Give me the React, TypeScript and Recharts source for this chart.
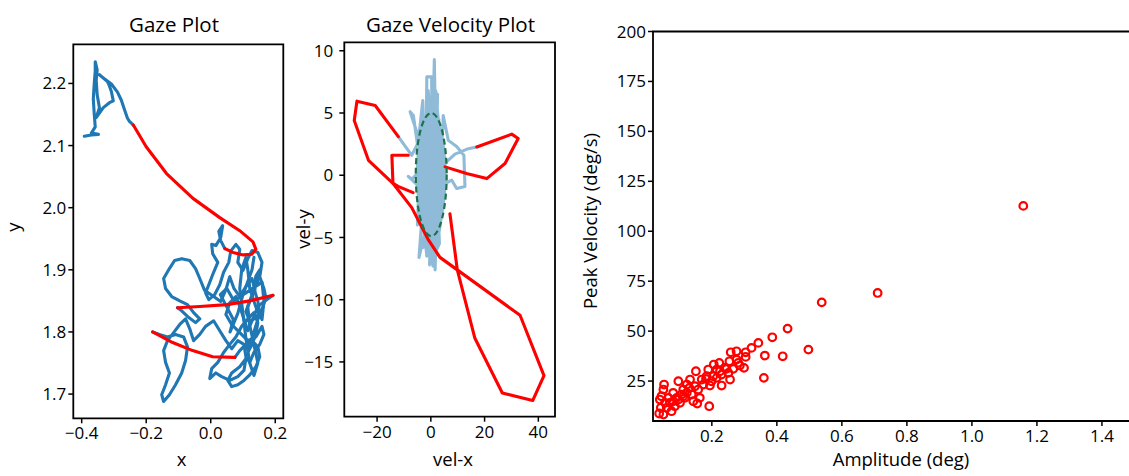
import React from 'react';
import { ScatterChart, Scatter, XAxis, YAxis, ReferenceArea } from 'recharts';

type P = { x: number; y: number };
const pts = (a: number[][]): P[] => a.map(([x, y]) => ({ x, y }));

// ---------- Gaze plot ----------
const gazeXTicks = [-0.4, -0.2, 0.0, 0.2];
const gazeYTicks = [1.7, 1.8, 1.9, 2.0, 2.1, 2.2];
const gazeXDomain = [-0.426, 0.225];
const gazeYDomain = [1.661, 2.263];

const gazeFix1 = pts([
  [-0.392, 2.115], [-0.37, 2.117], [-0.348, 2.118], [-0.37, 2.12], [-0.358, 2.13], [-0.361, 2.15],
  [-0.364, 2.175], [-0.361, 2.2], [-0.358, 2.22], [-0.358, 2.235], [-0.352, 2.222], [-0.355, 2.205],
  [-0.352, 2.182], [-0.345, 2.161], [-0.355, 2.145], [-0.333, 2.161], [-0.314, 2.169], [-0.302, 2.172],
  [-0.308, 2.187], [-0.314, 2.196], [-0.32, 2.203], [-0.345, 2.214], [-0.333, 2.209], [-0.308, 2.199],
  [-0.289, 2.186], [-0.277, 2.173], [-0.268, 2.159], [-0.258, 2.144], [-0.252, 2.139], [-0.246, 2.136],
  [-0.24, 2.133],
]);
const gazeSacc1 = pts([
  [-0.24, 2.133], [-0.2, 2.098], [-0.137, 2.055], [-0.055, 2.015], [0.028, 1.984], [0.09, 1.963],
  [0.131, 1.945], [0.14, 1.933], [0.127, 1.925], [0.101, 1.924], [0.069, 1.928], [0.044, 1.934],
]);
const gazeFix2 = pts([
  [0.044, 1.934], [0.031, 1.947], [0.025, 1.962], [0.037, 1.971], [0.031, 1.952], [0.016, 1.939],
  [0.003, 1.941], [0.006, 1.926], [0.022, 1.912], [0.009, 1.896], [-0.003, 1.88], [-0.016, 1.863],
  [-0.006, 1.852], [0.012, 1.86], [0.028, 1.876], [0.04, 1.896], [0.056, 1.912], [0.062, 1.93],
  [0.078, 1.941], [0.09, 1.933], [0.084, 1.912], [0.1, 1.899], [0.115, 1.918], [0.128, 1.931],
  [0.146, 1.928], [0.159, 1.912], [0.152, 1.889], [0.165, 1.87], [0.171, 1.855], [0.159, 1.836],
  [0.14, 1.823], [0.121, 1.817], [0.109, 1.833], [0.121, 1.85], [0.137, 1.867], [0.128, 1.886],
  [0.109, 1.873], [0.09, 1.857], [0.072, 1.87], [0.059, 1.889], [0.047, 1.868], [0.031, 1.849],
  [0.009, 1.857], [-0.019, 1.867], [-0.034, 1.886], [-0.047, 1.902], [-0.065, 1.915], [-0.09, 1.918],
  [-0.112, 1.915], [-0.128, 1.902], [-0.146, 1.886], [-0.14, 1.87], [-0.121, 1.857], [-0.096, 1.85],
  [-0.072, 1.844], [-0.053, 1.831], [-0.034, 1.821], [-0.047, 1.815], [-0.072, 1.825], [-0.09, 1.834],
  [-0.103, 1.839],
]);
const gazeSacc2 = pts([
  [-0.103, 1.839], [-0.034, 1.841], [0.05, 1.844], [0.121, 1.85], [0.193, 1.859],
]);
const gazeFix3 = pts([
  [0.193, 1.859], [0.168, 1.85], [0.146, 1.841], [0.134, 1.825], [0.115, 1.802], [0.103, 1.821],
  [0.09, 1.841], [0.078, 1.857], [0.059, 1.847], [0.047, 1.828], [0.065, 1.812], [0.09, 1.799],
  [0.115, 1.786], [0.14, 1.792], [0.159, 1.809], [0.165, 1.796], [0.152, 1.78], [0.134, 1.767],
  [0.121, 1.751], [0.109, 1.76], [0.103, 1.78], [0.084, 1.786], [0.065, 1.773], [0.047, 1.786],
  [0.028, 1.802], [0.009, 1.818], [-0.016, 1.809], [-0.034, 1.796], [-0.053, 1.786], [-0.065, 1.805],
  [-0.078, 1.821], [-0.096, 1.812], [-0.115, 1.799], [-0.134, 1.786], [-0.146, 1.77], [-0.14, 1.751],
  [-0.128, 1.734], [-0.14, 1.715], [-0.152, 1.699], [-0.146, 1.688], [-0.128, 1.699], [-0.109, 1.715],
  [-0.09, 1.734], [-0.078, 1.754], [-0.072, 1.776], [-0.084, 1.792], [-0.109, 1.796], [-0.134, 1.792],
  [-0.159, 1.796], [-0.18, 1.8],
]);
const gazeSacc3 = pts([
  [-0.18, 1.8], [-0.118, 1.783], [-0.056, 1.77], [0.006, 1.76], [0.075, 1.759],
]);
const gazeFix4 = pts([
  [0.075, 1.759], [0.09, 1.77], [0.109, 1.78], [0.128, 1.786], [0.146, 1.776], [0.152, 1.76],
  [0.14, 1.744], [0.121, 1.731], [0.103, 1.722], [0.084, 1.715], [0.065, 1.712], [0.053, 1.722],
  [0.065, 1.734], [0.09, 1.744], [0.109, 1.757], [0.103, 1.738], [0.084, 1.728], [0.059, 1.722],
  [0.034, 1.728], [0.016, 1.734], [-0.003, 1.725], [0.003, 1.741], [0.022, 1.751], [0.04, 1.767],
  [0.059, 1.78], [0.078, 1.792], [0.096, 1.809], [0.115, 1.821], [0.134, 1.831], [0.146, 1.815],
  [0.14, 1.796], [0.128, 1.78], [0.115, 1.767], [0.128, 1.79], [0.14, 1.81], [0.152, 1.83],
  [0.146, 1.85], [0.134, 1.87], [0.14, 1.89], [0.152, 1.9], [0.146, 1.88], [0.128, 1.86],
  [0.115, 1.84], [0.121, 1.81], [0.134, 1.78], [0.146, 1.75], [0.134, 1.73], [0.121, 1.75],
  [0.109, 1.79], [0.1, 1.83], [0.09, 1.87], [0.096, 1.9], [0.109, 1.92], [0.115, 1.9],
  [0.121, 1.87], [0.14, 1.84], [0.159, 1.82], [0.165, 1.85], [0.159, 1.88], [0.072, 1.85],
  [0.05, 1.87], [0.03, 1.86], [0.05, 1.84], [0.07, 1.82], [0.06, 1.8], [0.084, 1.83],
  [0.1, 1.86], [0.128, 1.9], [0.134, 1.92],
]);

// ---------- Gaze velocity plot ----------
const velXTicks = [-20, 0, 20, 40];
const velYTicks = [-15, -10, -5, 0, 5, 10];
const velXDomain = [-32.2, 46.2];
const velYDomain = [-19.4, 10.68];

const velFixation = pts([
  [-12.1, 3.1], [-7.1, 1.6], [-5, 2.5], [-6.5, 4.8], [-7.7, 5.1], [-4.5, 3], [-3, 6], [-2, -2],
  [-1.5, 7.9], [0.3, 7.9], [0.5, 2], [1.3, 9.3], [1.8, 3], [2.5, 6.5], [1.5, -3], [3, 4.5], [-1, -5],
  [0, 6], [-2.5, -4], [3.5, 2.5], [-3.5, 0.5], [-7, -0.3], [-8.4, -0.1], [-4, -1], [-1.5, -6.5],
  [0.5, -2], [1.6, -7.6], [2, -4], [4.5, 4], [4.6, 4.8], [6.5, 2.8], [9.6, 2.3], [12.3, 1.6],
  [12.7, -0.9], [9.6, -1.07], [7.8, -0.4], [5.3, -0.67], [3.5, -4], [0.8, -7.3], [-0.5, -3],
  [-4.4, -6.6], [-3, -2.5], [-4, 3.5], [-2, 0], [-5, -4], [-3.5, 4.3], [2.5, -1], [-1, 6.8],
  [1, -6], [2, 5.5], [-2.8, -5.8], [0.8, 7], [3.2, -5.5], [-0.5, -7.2], [1.8, 6.8], [4, 1.5],
  [5.3, 0.97], [9, 1.7], [13.5, 2.1], [17.1, 2.27],
]);
const velSaccA = pts([
  [-12.1, 3.1], [-20.7, 5.6], [-27.5, 5.95], [-28.5, 4.4], [-23.2, 1.2], [-13.9, -0.7], [-7.1, -2.6],
  [-0.9, -5.2], [3.4, -6.6], [33.2, -11.25], [42.1, -16.1], [37.9, -18.1], [26.6, -17.5],
  [16.4, -13.1], [9.85, -7.6], [7.1, -3.1],
]);
const velSaccB = pts([
  [-8.4, 1.6], [-14.5, 1.6], [-14.1, -0.64], [-12.2, -0.9], [-6.6, -1.4],
]);
const velSaccC = pts([
  [5.3, 0.67], [13.3, 0.14], [20.8, -0.27], [27.6, 0.94], [32.5, 2.95], [30.1, 3.3], [17.1, 2.27],
]);
// fixation velocity ellipse (data extents)
const ellipseX = [-5.6, 5.9];
const ellipseY = [-4.9, 5.0];

// ---------- Main sequence ----------
const msXTicks = [0.2, 0.4, 0.6, 0.8, 1.0, 1.2, 1.4];
const msYTicks = [25, 50, 75, 100, 125, 150, 175, 200];
const msXDomain = [0.019, 1.55];
const msYDomain = [5, 200];
const amplitude = [
  1.158, 0.71, 0.538, 0.433, 0.386, 0.497, 0.418, 0.363, 0.36, 0.343, 0.322, 0.304, 0.304, 0.276,
  0.258, 0.299, 0.281, 0.254, 0.24, 0.225, 0.256, 0.23, 0.215, 0.206, 0.223, 0.189, 0.184, 0.194,
  0.192, 0.155, 0.151, 0.133, 0.123, 0.112, 0.097, 0.081, 0.053, 0.04, 0.038, 0.051, 0.045, 0.056,
  0.071, 0.086, 0.102, 0.117, 0.138, 0.158, 0.174, 0.204, 0.23, 0.266, 0.286, 0.251, 0.163, 0.143,
  0.076, 0.066, 0.092, 0.107, 0.123, 0.131, 0.148, 0.169, 0.182, 0.215, 0.199, 0.245, 0.276, 0.043,
  0.061, 0.081, 0.097, 0.112, 0.051,
];
const peakVelocity = [
  112.7, 69.1, 64.4, 51.25, 46.9, 40.75, 37.4, 37.75, 26.6, 44.1, 41.6, 39.4, 37.1, 39.9,
  39.4, 31.6, 34.1, 34.9, 31.6, 29.9, 25.75, 22.75, 30.75, 33.25, 34.1, 30.75, 27.4, 22.75,
  12.4, 13.75, 29.9, 25.75, 23.25, 20.75, 24.9, 19.1, 23.25, 15.75, 8.75, 8.25, 17.4, 14.1,
  14.1, 12.4, 14.1, 16.6, 18.25, 20.75, 23.25, 27.4, 28.25, 31.1, 32.75, 29.1, 16.6, 14.9,
  9.9, 16.6, 16.6, 18.25, 19.1, 21.6, 22.4, 25.75, 26.1, 26.6, 24.9, 31.1, 35.75, 11.6,
  11.6, 14.9, 15.75, 17.4, 20.75,
];
const mainSeq: P[] = amplitude.map((a, i) => ({ x: a, y: peakVelocity[i] }));

// ---------- styles ----------
const BLUE = '#1f77b4';
const LIGHT_BLUE = '#8fbbd9';
const RED = '#ff0000';
const GREEN = '#1b7447';
const TICK_FONT = 17;
const LW = 3.1;

const fmtMinus = (s: string) => s.replace('-', '\u2212');
const fmt1 = (v: number) => fmtMinus(v.toFixed(1));
const fmt0 = (v: number) => fmtMinus(String(Math.round(v)));

const noDot = () => <g />;
const trace = (key: string, data: P[], color: string, w: number) => (
  <Scatter
    key={key}
    data={data}
    fill={color}
    line={{ stroke: color, strokeWidth: w, strokeLinejoin: 'round', strokeLinecap: 'round' }}
    lineType="joint"
    shape={noDot}
    isAnimationActive={false}
    legendType="none"
  />
);
const frame = (xd: number[], yd: number[]) => (
  <ReferenceArea
    x1={xd[0]}
    x2={xd[1]}
    y1={yd[0]}
    y2={yd[1]}
    fill="none"
    fillOpacity={0}
    stroke="#000"
    strokeWidth={1.8}
    ifOverflow="visible"
  />
);
const tickLine = { stroke: '#000', strokeWidth: 1.5 };
const tickStyle = { fill: '#000', fontSize: TICK_FONT };

const Txt = ({ x, y, size, rotate, children }: any) => (
  <div
    style={{
      position: 'absolute',
      left: x,
      top: y,
      fontSize: size,
      lineHeight: 1,
      whiteSpace: 'nowrap',
      transform: `translate(-50%, -50%)${rotate ? ' rotate(-90deg)' : ''}`,
    }}
  >
    {children}
  </div>
);

export default function App() {
  return (
    <div
      style={{
        position: 'absolute',
        left: 0,
        top: 0,
        width: 1129,
        height: 476,
        overflow: 'hidden',
        background: '#fff',
        fontFamily: "'Open Sans', sans-serif",
        color: '#000',
      }}
    >
      {/* Gaze plot */}
      <div style={{ position: 'absolute', left: 0, top: 0 }}>
        <ScatterChart width={300} height={476} margin={{ top: 44.3, right: 16.7, bottom: 0, left: 0 }}>
          <XAxis
            type="number"
            dataKey="x"
            domain={gazeXDomain}
            allowDataOverflow
            ticks={gazeXTicks}
            interval={0}
            tickFormatter={fmt1}
            axisLine={false}
            tickLine={tickLine}
            tickSize={5}
            tickMargin={4}
            tick={tickStyle}
            height={57.7}
          />
          <YAxis
            type="number"
            dataKey="y"
            domain={gazeYDomain}
            allowDataOverflow
            ticks={gazeYTicks}
            interval={0}
            tickFormatter={fmt1}
            axisLine={false}
            tickLine={tickLine}
            tickSize={5}
            tickMargin={2}
            tick={tickStyle}
            width={73.3}
          />
          {frame(gazeXDomain, gazeYDomain)}
          {trace('f1', gazeFix1, BLUE, LW)}
          {trace('f2', gazeFix2, BLUE, LW)}
          {trace('f3', gazeFix3, BLUE, LW)}
          {trace('f4', gazeFix4, BLUE, LW)}
          {trace('s1', gazeSacc1, RED, LW)}
          {trace('s2', gazeSacc2, RED, LW)}
          {trace('s3', gazeSacc3, RED, LW)}
        </ScatterChart>
      </div>

      {/* Gaze velocity plot */}
      <div style={{ position: 'absolute', left: 290, top: 0 }}>
        <ScatterChart width={280} height={476} margin={{ top: 42.3, right: 15, bottom: 0, left: 0 }}>
          <XAxis
            type="number"
            dataKey="x"
            domain={velXDomain}
            allowDataOverflow
            ticks={velXTicks}
            interval={0}
            tickFormatter={fmt0}
            axisLine={false}
            tickLine={tickLine}
            tickSize={5}
            tickMargin={4}
            tick={tickStyle}
            height={59.3}
          />
          <YAxis
            type="number"
            dataKey="y"
            domain={velYDomain}
            allowDataOverflow
            ticks={velYTicks}
            interval={0}
            tickFormatter={fmt0}
            axisLine={false}
            tickLine={tickLine}
            tickSize={5}
            tickMargin={6}
            tick={tickStyle}
            width={54.3}
          />
          {frame(velXDomain, velYDomain)}
          {trace('vf', velFixation, LIGHT_BLUE, LW)}
          <ReferenceArea
            x1={ellipseX[0]}
            x2={ellipseX[1]}
            y1={ellipseY[0]}
            y2={ellipseY[1]}
            ifOverflow="visible"
            shape={(p: any) => (
              <ellipse
                cx={p.x + p.width / 2}
                cy={p.y + p.height / 2}
                rx={p.width / 2}
                ry={p.height / 2}
                fill={LIGHT_BLUE}
                stroke="none"
              />
            )}
          />
          {trace('va', velSaccA, RED, LW)}
          {trace('vb', velSaccB, RED, LW)}
          {trace('vc', velSaccC, RED, LW)}
          <ReferenceArea
            x1={ellipseX[0]}
            x2={ellipseX[1]}
            y1={ellipseY[0]}
            y2={ellipseY[1]}
            ifOverflow="visible"
            zIndex={2000}
            shape={(p: any) => (
              <ellipse
                cx={p.x + p.width / 2}
                cy={p.y + p.height / 2}
                rx={p.width / 2}
                ry={p.height / 2}
                fill="none"
                stroke={GREEN}
                strokeWidth={2.2}
                strokeDasharray="6 3.5"
              />
            )}
          />
        </ScatterChart>
      </div>

      {/* Main sequence */}
      <div style={{ position: 'absolute', left: 570, top: 0 }}>
        <ScatterChart width={600} height={476} margin={{ top: 31.5, right: 19.3, bottom: 0, left: 0 }}>
          <XAxis
            type="number"
            dataKey="x"
            domain={msXDomain}
            allowDataOverflow
            ticks={msXTicks}
            interval={0}
            tickFormatter={fmt1}
            axisLine={false}
            tickLine={tickLine}
            tickSize={5}
            tickMargin={4}
            tick={tickStyle}
            height={55}
          />
          <YAxis
            type="number"
            dataKey="y"
            domain={msYDomain}
            allowDataOverflow
            ticks={msYTicks}
            interval={0}
            tickFormatter={fmt0}
            axisLine={false}
            tickLine={tickLine}
            tickSize={5}
            tickMargin={2}
            tick={tickStyle}
            width={83}
          />
          {frame(msXDomain, msYDomain)}
          <Scatter
            data={mainSeq}
            isAnimationActive={false}
            shape={(p: any) => (
              <circle cx={p.cx} cy={p.cy} r={3.8} fill="none" stroke={RED} strokeWidth={2.2} />
            )}
          />
        </ScatterChart>
      </div>

      {/* titles and axis labels */}
      <Txt x={174} y={23.7} size={20.5}>Gaze Plot</Txt>
      <Txt x={450.5} y={23.7} size={20.5}>Gaze Velocity Plot</Txt>
      <Txt x={181.7} y={458.8} size={18.5}>x</Txt>
      <Txt x={453} y={458.8} size={18.5}>vel-x</Txt>
      <Txt x={901} y={458.8} size={18.5}>Amplitude (deg)</Txt>
      <Txt x={13.3} y={226.7} size={18.5} rotate>y</Txt>
      <Txt x={303.3} y={228.7} size={18.5} rotate>vel-y</Txt>
      <Txt x={589.5} y={220.8} size={18.5} rotate>Peak Velocity (deg/s)</Txt>
    </div>
  );
}
